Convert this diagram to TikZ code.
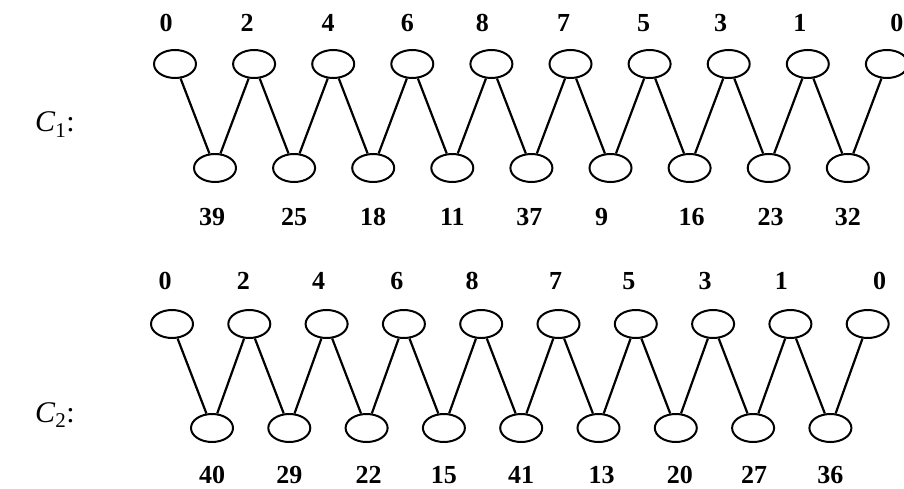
\documentclass[tikz,border=0pt]{standalone}
\usepackage{fontspec}
\setmainfont{Liberation Serif}
\usetikzlibrary{positioning, shapes.geometric}

\tikzset{
  vtx/.style={
    ellipse, draw=black, line width=2pt,
    minimum width=42pt, minimum height=28pt,
    inner sep=0pt
  },
  numlbl/.style={
    font=\fontsize{26}{28}\selectfont\bfseries,
    inner sep=0pt, text height=17.5pt, text depth=0pt
  },
  rowname/.style={
    font=\fontsize{30}{32}\selectfont,
    anchor=base west, inner sep=0pt
  },
  link/.style={
    line width=2.2pt,
    draw=black
  }
}

\begin{document}
\begin{tikzpicture}[x=1pt, y=-1pt]
  \useasboundingbox (0,0) rectangle (904,489);

  % cycle C1
  \node[rowname] (nameA) at (35,132) {\textit{C}\textsubscript{1}:};
  \foreach \v/\dx [count=\i from 0] in {0/-9, 2/-7, 4/-5, 6/-5, 8/-9, 7/-7, 5/-6, 3/-8, 1/-8, 0/10}{
    \node[vtx] (ta\i) at (175+79.1*\i, 64) {};
    \node[numlbl, above=17pt of ta\i, xshift=\dx pt] (lta\i) {\v};
  }
  \foreach \v/\dx [count=\i from 0] in {39/-3, 25/0, 18/0, 11/0, 37/-2, 9/-9, 16/2, 23/2, 32/0}{
    \node[vtx] (ba\i) at (215+79.1*\i, 168) {};
    \node[numlbl, below=25pt of ba\i, xshift=\dx pt] (lba\i) {\v};
  }
  \foreach \i [evaluate=\i as \j using int(\i+1)] in {0,...,8}{
    \draw[link] (ta\i) -- (ba\i) -- (ta\j);
  }

  % cycle C2
  \node[rowname] (nameB) at (35,422) {\textit{C}\textsubscript{2}:};
  \foreach \v/\dx [count=\i from 0] in {0/-7, 2/-6, 4/-8, 6/-7, 8/-9, 7/-3, 5/-7, 3/-8, 1/-9, 0/12}{
    \node[vtx] (tb\i) at (172+77.3*\i, 324) {};
    \node[numlbl, above=19pt of tb\i, xshift=\dx pt] (ltb\i) {\v};
  }
  \foreach \v/\dx [count=\i from 0] in {40/0, 29/0, 22/2, 15/0, 41/0, 13/3, 20/4, 27/1, 36/0}{
    \node[vtx] (bb\i) at (212+77.3*\i, 428) {};
    \node[numlbl, below=23pt of bb\i, xshift=\dx pt] (lbb\i) {\v};
  }
  \foreach \i [evaluate=\i as \j using int(\i+1)] in {0,...,8}{
    \draw[link] (tb\i) -- (bb\i) -- (tb\j);
  }
\end{tikzpicture}
\end{document}
